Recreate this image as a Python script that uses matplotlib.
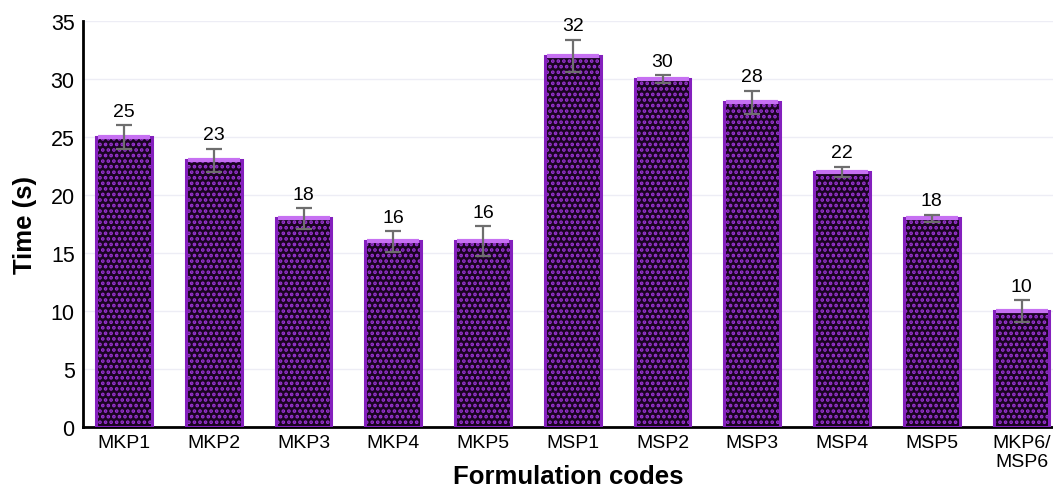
import matplotlib
matplotlib.use("Agg")
import matplotlib.pyplot as plt
import numpy as np

plt.rcParams['font.family'] = ['Liberation Sans', 'DejaVu Sans']
plt.rcParams['hatch.linewidth'] = 1.8

# formulation codes and disintegration times
codes = ["MKP1", "MKP2", "MKP3", "MKP4", "MKP5", "MSP1", "MSP2", "MSP3",
         "MSP4", "MSP5", "MKP6/\nMSP6"]
times = [25, 23, 18, 16, 16, 32, 30, 28, 22, 18, 10]
errors = [1.0, 1.0, 0.9, 0.9, 1.3, 1.4, 0.35, 1.0, 0.45, 0.3, 0.95]

fig = plt.figure(figsize=(10.53, 4.89), dpi=100)
ax = fig.add_axes([83 / 1053, 1 - 428 / 489, 1 - 83 / 1053, 406 / 489])

x = np.arange(len(codes))
width = 0.62

# dotted fill, then a purple outline on top
ax.bar(x, times, width, color='#1a0422', edgecolor='#9a34d4', hatch='...',
       linewidth=0, zorder=2)
ax.bar(x, times, width, fill=False, edgecolor='#8420bd', linewidth=2.2, zorder=3)
ax.hlines(times, x - width / 2 + 0.02, x + width / 2 - 0.02,
          color='#c670f2', linewidth=3, zorder=3)

ax.errorbar(x, times, yerr=errors, fmt='none', ecolor='#6e6e6e',
            elinewidth=1.6, capsize=5.5, capthick=1.6, zorder=4)

for xi, t, e in zip(x, times, errors):
    ax.text(xi, t + e + 0.45, str(t), ha='center', va='bottom', fontsize=14)

ax.set_ylim(0, 35)
ax.set_xlim(-0.457, 10.35)
ax.set_yticks(range(0, 36, 5))
ax.set_xticks(x)
ax.set_xticklabels(codes, fontsize=14, linespacing=1.15)
ax.tick_params(axis='y', labelsize=15.5, length=0, pad=6)
ax.tick_params(axis='x', length=0, pad=5)
ax.yaxis.grid(True, color='#ededf5', linewidth=1, zorder=0)
ax.set_axisbelow(True)

for s in ['top', 'right']:
    ax.spines[s].set_visible(False)
ax.spines['left'].set_linewidth(2)
ax.spines['bottom'].set_linewidth(2)

ax.set_ylabel("Time (s)", fontsize=18.5, fontweight='bold', labelpad=10)
ax.set_xlabel("Formulation codes", fontsize=18.5, fontweight='bold', labelpad=-4)

fig.savefig("out.png", dpi=100)
